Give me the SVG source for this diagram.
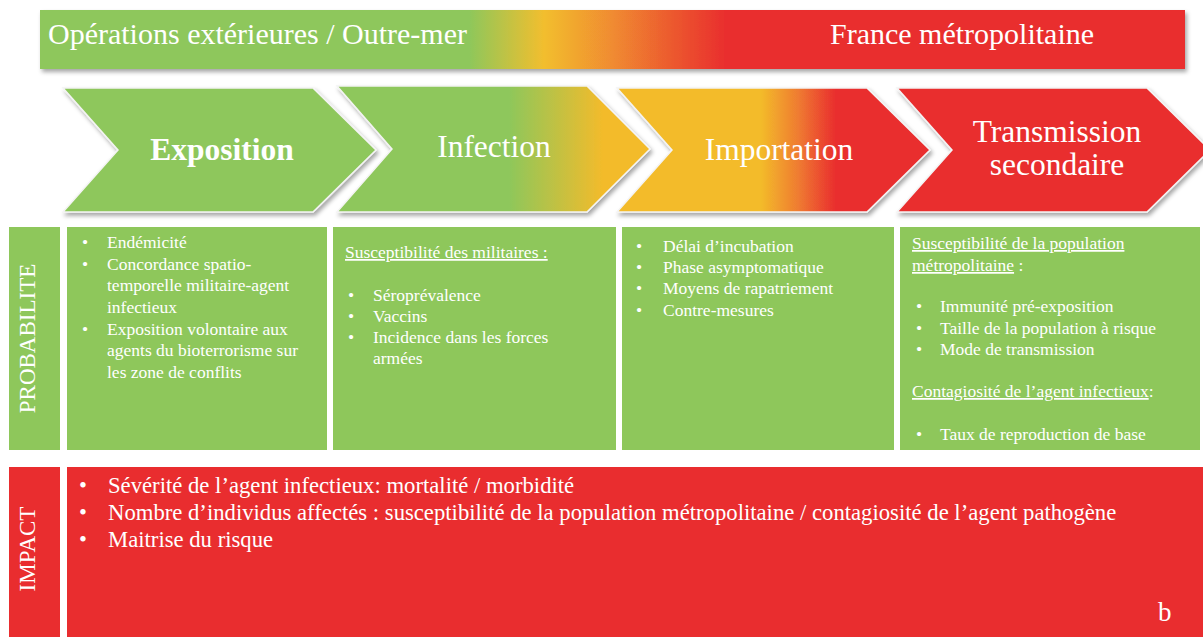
<svg xmlns="http://www.w3.org/2000/svg" width="1203" height="637" viewBox="0 0 1203 637">
<defs>
<style>
.t{font-family:"Liberation Serif","Times New Roman",serif;fill:#fff}
.hd{font-size:31.5px}
.bx{font-size:17.5px}
.im{font-size:22.7px}
.u{text-decoration:underline}
.g{fill:#8EC75B}
.r{fill:#E92D2F}
.chev{stroke:#f4f4f4;stroke-width:1.5}
</style>
<filter id="sh" x="-5%" y="-10%" width="112%" height="130%">
<feDropShadow dx="2" dy="3" stdDeviation="2" flood-color="#000" flood-opacity="0.35"/>
</filter>
<linearGradient id="barG" gradientUnits="userSpaceOnUse" x1="40" y1="0" x2="1185" y2="0">
<stop offset="0" stop-color="#8EC75B"/>
<stop offset="0.375" stop-color="#8EC75B"/>
<stop offset="0.44" stop-color="#F2BE2E"/>
<stop offset="0.50" stop-color="#F08B30"/>
<stop offset="0.55" stop-color="#EC5B2F"/>
<stop offset="0.6" stop-color="#E92D2F"/>
<stop offset="1" stop-color="#E92D2F"/>
</linearGradient>
<linearGradient id="c2G" gradientUnits="userSpaceOnUse" x1="337" y1="0" x2="650" y2="0">
<stop offset="0" stop-color="#8EC75B"/>
<stop offset="0.55" stop-color="#8EC75B"/>
<stop offset="0.85" stop-color="#F3BB2B"/>
<stop offset="1" stop-color="#F3BB2B"/>
</linearGradient>
<linearGradient id="c3G" gradientUnits="userSpaceOnUse" x1="617" y1="0" x2="930" y2="0">
<stop offset="0" stop-color="#F3BB2B"/>
<stop offset="0.46" stop-color="#F3BB2B"/>
<stop offset="0.58" stop-color="#EF7B30"/>
<stop offset="0.7" stop-color="#E92D2F"/>
<stop offset="1" stop-color="#E92D2F"/>
</linearGradient>
</defs>
<rect width="1203" height="637" fill="#fff"/>

<g id="zone-bar">
<rect x="40" y="10" width="1145" height="59" fill="url(#barG)" filter="url(#sh)"/>
<text class="t" x="48" y="44" font-size="30">Opérations extérieures / Outre-mer</text>
<text class="t" x="830" y="44" font-size="30">France métropolitaine</text>
</g>

<g id="chevron-exposition">
<polygon class="chev g" filter="url(#sh)" points="63,88 313,88 376,150 313,212 63,212 118,150"/>
<text class="t hd" x="222" y="160" text-anchor="middle" font-weight="bold" font-size="31">Exposition</text>
</g>
<g id="chevron-infection">
<polygon class="chev" fill="url(#c2G)" filter="url(#sh)" points="337,86 587,86 650,149 587,212 337,212 392,149"/>
<text class="t hd" x="494" y="157" text-anchor="middle">Infection</text>
</g>
<g id="chevron-importation">
<polygon class="chev" fill="url(#c3G)" filter="url(#sh)" points="617,88 867,88 930,150 867,212 617,212 672,150"/>
<text class="t hd" x="779" y="160" text-anchor="middle">Importation</text>
</g>
<g id="chevron-transmission">
<polygon class="chev r" filter="url(#sh)" points="897,88 1147,88 1210,150 1147,212 897,212 952,150"/>
<text class="t hd" x="1057" y="142" text-anchor="middle">Transmission</text>
<text class="t hd" x="1057" y="175" text-anchor="middle">secondaire</text>
</g>

<g id="label-probabilite">
<rect class="g" x="9" y="227" width="51" height="223"/>
<text class="t" font-size="23" transform="translate(35,338.5) rotate(-90)" text-anchor="middle">PROBABILITE</text>
</g>

<g id="prob-exposition">
<rect class="g" x="67" y="227" width="260" height="223"/>
<g class="t bx">
<text x="82" y="248">•</text><text x="107" y="248">Endémicité</text>
<text x="82" y="270">•</text><text x="107" y="270">Concordance spatio-</text>
<text x="107" y="291">temporelle militaire-agent</text>
<text x="107" y="313">infectieux</text>
<text x="82" y="335">•</text><text x="107" y="335">Exposition volontaire aux</text>
<text x="107" y="356">agents du bioterrorisme sur</text>
<text x="107" y="378">les zone de conflits</text>
</g>
</g>

<g id="prob-infection">
<rect class="g" x="333" y="227" width="283" height="223"/>
<g class="t bx">
<text class="u" x="345" y="258">Susceptibilité des militaires :</text>
<text x="348" y="301">•</text><text x="373" y="301">Séroprévalence</text>
<text x="348" y="322">•</text><text x="373" y="322">Vaccins</text>
<text x="348" y="343">•</text><text x="373" y="343">Incidence dans les forces</text>
<text x="373" y="364">armées</text>
</g>
</g>

<g id="prob-importation">
<rect class="g" x="622" y="227" width="272" height="223"/>
<g class="t bx">
<text x="636" y="252">•</text><text x="663" y="252">Délai d’incubation</text>
<text x="636" y="273">•</text><text x="663" y="273">Phase asymptomatique</text>
<text x="636" y="294">•</text><text x="663" y="294">Moyens de rapatriement</text>
<text x="636" y="316">•</text><text x="663" y="316">Contre-mesures</text>
</g>
</g>

<g id="prob-transmission">
<rect class="g" x="900" y="227" width="300" height="223"/>
<g class="t bx">
<text class="u" x="912" y="249">Susceptibilité de la population</text>
<text x="912" y="271"><tspan class="u">métropolitaine</tspan> :</text>
<text x="916" y="312">•</text><text x="940" y="312">Immunité pré-exposition</text>
<text x="916" y="334">•</text><text x="940" y="334">Taille de la population à risque</text>
<text x="916" y="355">•</text><text x="940" y="355">Mode de transmission</text>
<text x="912" y="397"><tspan class="u">Contagiosité de l’agent infectieux</tspan>:</text>
<text x="916" y="440">•</text><text x="940" y="440">Taux de reproduction de base</text>
</g>
</g>

<g id="label-impact">
<rect class="r" x="9" y="467" width="51" height="175"/>
<text class="t" font-size="23" transform="translate(35,549) rotate(-90)" text-anchor="middle">IMPACT</text>
</g>

<g id="impact">
<rect class="r" x="67" y="467" width="1140" height="175"/>
<g class="t im">
<text x="79" y="493">•</text><text x="108" y="493">Sévérité de l’agent infectieux: mortalité / morbidité</text>
<text x="79" y="520">•</text><text x="108" y="520">Nombre d’individus affectés : susceptibilité de la population métropolitaine / contagiosité de l’agent pathogène</text>
<text x="79" y="547">•</text><text x="108" y="547">Maitrise du risque</text>
</g>
<text class="t" x="1158" y="621" font-size="27">b</text>
</g>

<g id="connectors"></g>
</svg>
